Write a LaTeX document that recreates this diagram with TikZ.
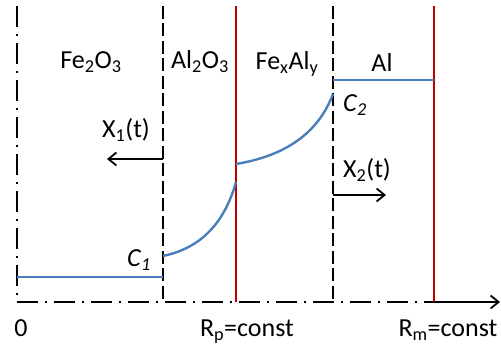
\documentclass[tikz,border=0pt]{standalone}
\usepackage{fontspec}
\setmainfont{Carlito}
\usetikzlibrary{arrows.meta}
\definecolor{curveblue}{HTML}{4A7EBB}
\definecolor{wallred}{HTML}{C00000}
\tikzset{
  lbl/.style={anchor=base, inner sep=0pt, font=\fontsize{26}{31}\selectfont},
  dashdot/.style={line width=2.2pt, dash pattern=on 21pt off 7pt on 2pt off 7pt},
  dashline/.style={line width=2.2pt, dash pattern=on 13pt off 4.5pt},
  wall/.style={line width=2.4pt, wallred},
  conc/.style={line width=2.4pt, curveblue},
  motion/.style={line width=1.8pt, -{Straight Barb[length=8pt, width=13pt, line width=1.8pt]}},
}
\newcommand{\sbs}[1]{\textsubscript{#1}}
\begin{document}
\begin{tikzpicture}[x=1pt, y=-1pt]
\useasboundingbox (0,0) rectangle (501,347);
% coordinates
\coordinate (L0t) at (17,6);   \coordinate (L0b) at (17,302);
\coordinate (D1t) at (163,6);  \coordinate (D1b) at (163,302);
\coordinate (R1t) at (236,6);  \coordinate (R1b) at (236,302);
\coordinate (D2t) at (333,6);  \coordinate (D2b) at (333,302);
\coordinate (R2t) at (434,6);  \coordinate (R2b) at (434,302);
\coordinate (axend) at (500,302);
% frame lines
\draw[dashdot] (L0t) -- (L0b);
\draw[dashdot] (L0b) -- (R2b);
\draw[line width=1.8pt, -{Straight Barb[length=8pt, width=13pt, line width=1.8pt]}] (R2b) -- (axend);
\draw[dashline] (D1t) -- (D1b);
\draw[dashline] (D2t) -- (D2b);
\draw[wall] (R1t) -- (R1b);
\draw[wall] (R2t) -- (R2b);
% concentration profile
\coordinate (p0) at (17,277);  \coordinate (p1) at (163,277);
\coordinate (p2) at (163,256); \coordinate (p3) at (236,182);
\coordinate (p4) at (236,164); \coordinate (p5) at (333,94);
\coordinate (p6) at (333,80);  \coordinate (p7) at (434,80);
\draw[conc] (p0) -- (p1);
\draw[conc] (p2) .. controls (192,250) and (222,232) .. (p3);
\draw[conc] (p4) .. controls (272,158) and (315,142) .. (p5);
\draw[conc] (p6) -- (p7);
% motion arrows
\coordinate (x1s) at (163,159); \coordinate (x1e) at (107,159);
\coordinate (x2s) at (333,195); \coordinate (x2e) at (386,195);
\draw[motion] (x1s) -- (x1e);
\draw[motion] (x2s) -- (x2e);
% labels
\node[lbl] (fe2o3) at (91,69) {Fe\sbs{2}O\sbs{3}};
\node[lbl] (al2o3) at (200,69) {Al\sbs{2}O\sbs{3}};
\node[lbl] (fexaly) at (287,70) {Fe\sbs{x}Al\sbs{y}};
\node[lbl] (al) at (382,72) {Al};
\node[lbl] (x1) at (126,138) {X\sbs{1}(t)};
\node[lbl] (x2) at (367,178) {X\sbs{2}(t)};
\node[lbl] (c1) at (139,267) {\textit{C}\sbs{\textit{1}}};
\node[lbl] (c2) at (355,112) {\textit{C}\sbs{\textit{2}}};
\node[lbl] (zero) at (21,337) {0};
\node[lbl] (rp) at (247,337) {R\sbs{p}=const};
\node[lbl] (rm) at (448,337) {R\sbs{m}=const};
\end{tikzpicture}
\end{document}
